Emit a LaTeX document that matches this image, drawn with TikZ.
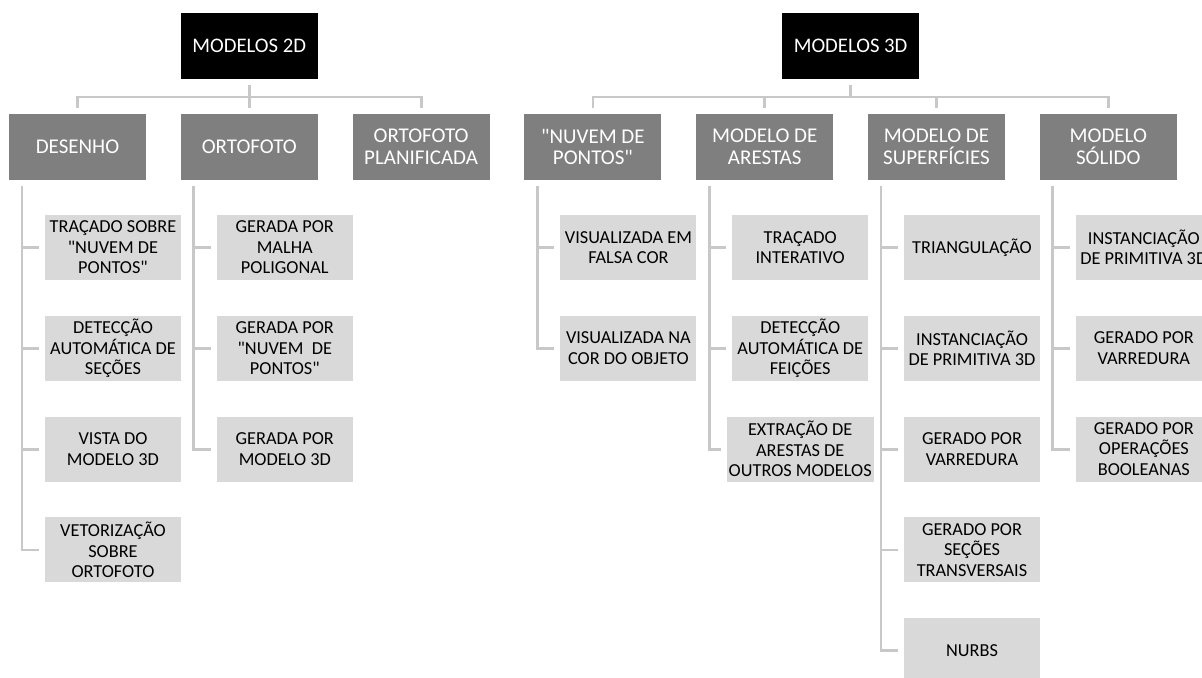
\documentclass[tikz,border=0pt]{standalone}
\usepackage{fontspec}
\setmainfont{Carlito}[Ligatures=TeXOff]
\usetikzlibrary{positioning, calc}

\definecolor{groupfill}{RGB}{127,127,127}
\definecolor{itemfill}{RGB}{217,217,217}
\definecolor{linkgray}{RGB}{200,200,200}

\begin{document}
\begin{tikzpicture}[
  rootbox/.style={rectangle, fill=black, text=white, minimum width=68.5pt, minimum height=33pt, inner sep=1pt, outer sep=3pt, align=center, font=\fontsize{10.35pt}{12pt}\selectfont},
  groupbox/.style={rectangle, fill=groupfill, text=white, minimum width=68.5pt, minimum height=33pt, inner sep=1pt, outer sep=3pt, align=center, font=\fontsize{10.5pt}{10.9pt}\selectfont},
  itembox/.style={rectangle, fill=itemfill, text=black, minimum width=68pt, minimum height=32.5pt, inner sep=1pt, outer sep=3pt, align=center, font=\fontsize{9.15pt}{10.25pt}\selectfont},
  link/.style={draw=linkgray, line width=1.4pt},
  node distance=85.9pt, on grid
]
\useasboundingbox (0,0) rectangle (601pt,-339pt);

% Model families (one row)
\node[groupbox] (desenho) at (38.75pt,-73.5pt) {DESENHO};
\node[groupbox, right=of desenho] (orto)     {ORTOFOTO};
\node[groupbox, right=of orto] (planif)      {ORTOFOTO\\PLANIFICADA};
\node[groupbox, right=of planif] (nuvem)     {"NUVEM DE\\PONTOS"};
\node[groupbox, right=of nuvem] (arestas)    {MODELO DE\\ARESTAS};
\node[groupbox, right=of arestas] (superf)   {MODELO DE\\SUPERFÍCIES};
\node[groupbox, right=of superf] (solido)    {MODELO\\SÓLIDO};

% Roots
\node[rootbox, above=50.5pt of orto] (m2d) {MODELOS 2D};
\node[rootbox] (m3d) at ($(arestas)!0.5!(superf)+(0,50.5pt)$) {MODELOS 3D};

% Desenho
\node[itembox, below right=50.25pt and 17.75pt of desenho] (des1) {TRAÇADO SOBRE\\"NUVEM DE\\PONTOS"};
\node[itembox, below=50.4pt of des1] (des2) {DETECÇÃO\\AUTOMÁTICA DE\\SEÇÕES};
\node[itembox, below=50.4pt of des2] (des3) {VISTA DO\\MODELO 3D};
\node[itembox, below=50.4pt of des3] (des4) {VETORIZAÇÃO\\SOBRE\\ORTOFOTO};

% Ortofoto
\node[itembox, below right=50.25pt and 17.75pt of orto] (ort1) {GERADA POR\\MALHA\\POLIGONAL};
\node[itembox, below=50.4pt of ort1] (ort2) {GERADA POR\\"NUVEM~ DE\\PONTOS"};
\node[itembox, below=50.4pt of ort2] (ort3) {GERADA POR\\MODELO 3D};

% Nuvem de pontos
\node[itembox, below right=50.25pt and 17.75pt of nuvem] (nuv1) {VISUALIZADA EM\\FALSA COR};
\node[itembox, below=50.4pt of nuv1] (nuv2) {VISUALIZADA NA\\COR DO OBJETO};

% Modelo de arestas
\node[itembox, below right=50.25pt and 17.75pt of arestas] (are1) {TRAÇADO\\INTERATIVO};
\node[itembox, below=50.4pt of are1] (are2) {DETECÇÃO\\AUTOMÁTICA DE\\FEIÇÕES};
\node[itembox, below=50.4pt of are2] (are3) {EXTRAÇÃO DE\\ARESTAS DE\\OUTROS MODELOS};

% Modelo de superficies
\node[itembox, below right=50.25pt and 17.75pt of superf] (sup1) {TRIANGULAÇÃO};
\node[itembox, below=50.4pt of sup1] (sup2) {INSTANCIAÇÃO\\DE PRIMITIVA 3D};
\node[itembox, below=50.4pt of sup2] (sup3) {GERADO POR\\VARREDURA};
\node[itembox, below=50.4pt of sup3] (sup4) {GERADO POR\\SEÇÕES\\TRANSVERSAIS};
\node[itembox, below=50.4pt of sup4] (sup5) {NURBS};

% Modelo solido
\node[itembox, below right=50.25pt and 17.75pt of solido] (sol1) {INSTANCIAÇÃO\\DE PRIMITIVA 3D};
\node[itembox, below=50.4pt of sol1] (sol2) {GERADO POR\\VARREDURA};
\node[itembox, below=50.4pt of sol2] (sol3) {GERADO POR\\OPERAÇÕES\\BOOLEANAS};

% Root to family connectors
\foreach \r/\g in {m2d/desenho, m2d/orto, m2d/planif,
                   m3d/nuvem, m3d/arestas, m3d/superf, m3d/solido}
  \draw[link] (\r.south) -- ++(0,-6pt) -| (\g.north);

% Family to item connectors
\foreach \g/\i in {desenho/des1, desenho/des2, desenho/des3, desenho/des4,
                   orto/ort1, orto/ort2, orto/ort3,
                   nuvem/nuv1, nuvem/nuv2,
                   arestas/are1, arestas/are2, arestas/are3,
                   superf/sup1, superf/sup2, superf/sup3, superf/sup4, superf/sup5,
                   solido/sol1, solido/sol2, solido/sol3}
  \draw[link] ($(\g.south west)+(9.5pt,0)$) |- (\i.west);

\end{tikzpicture}
\end{document}
